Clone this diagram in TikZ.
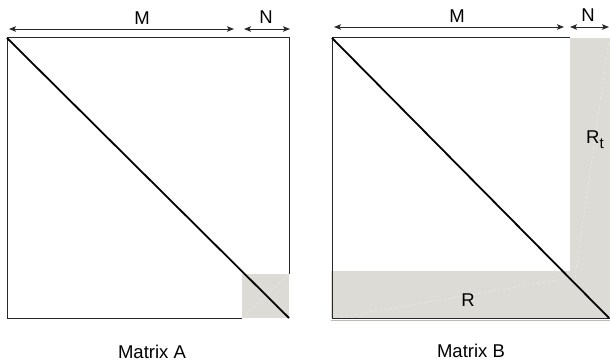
\documentclass[tikz,border=0pt]{standalone}
\usepackage{fontspec}
\setmainfont{Liberation Sans}
\usetikzlibrary{arrows.meta}
\definecolor{cellgray}{RGB}{221,219,213}
\definecolor{edge}{RGB}{40,40,40}
\begin{document}
\begin{tikzpicture}[x=1pt,y=-1pt,
  lbl/.style={font=\fontsize{18.5}{20}\selectfont, inner sep=0pt},
  dimarrow/.style={draw=edge, line width=0.9pt, {Stealth[length=7pt,width=5.5pt,inset=1.5pt]}-{Stealth[length=7pt,width=5.5pt,inset=1.5pt]}},
  boxline/.style={draw=edge, line width=1pt},
  diag/.style={draw=black, line width=1.8pt},
  faint/.style={draw=white, opacity=0.35, line width=0.6pt, dash pattern=on 3pt off 2pt}]
\useasboundingbox (0,0) rectangle (610,363);
% ---------- Matrix A ----------
\fill[cellgray] (242,274) rectangle (289,318);
\draw[faint] (242,318) -- (289,274);
\draw[boxline] (242,318) -- (7,318) -- (7,38) -- (289,38) -- (289,274);
\coordinate (a1) at (7,38);
\coordinate (a2) at (289,318);
\draw[diag] (a1) -- (a2);
\coordinate (am1) at (9,29);
\coordinate (am2) at (234,29);
\coordinate (an1) at (244,29);
\coordinate (an2) at (290,29);
\draw[dimarrow] (am1) -- (am2);
\draw[dimarrow] (an1) -- (an2);
\node[lbl] (aM) at (142,18) {M};
\node[lbl] (aN) at (266,17) {N};
\node[lbl] (capA) at (152,352) {Matrix A};
% ---------- Matrix B ----------
\fill[cellgray] (570,38) rectangle (610,318);
\fill[cellgray] (331,271) rectangle (570,318);
\draw[cellgray!85!black, line width=0.8pt] (331,320) -- (610,320);
\draw[faint] (340,317) -- (570,278);
\draw[faint] (575,278) -- (609,40);
\draw[boxline] (570,38) -- (332,38) -- (332,318) -- (610,318);
\coordinate (b1) at (332,38);
\coordinate (b2) at (609,318);
\draw[diag] (b1) -- (b2);
\coordinate (bm1) at (334,27);
\coordinate (bm2) at (564,27);
\coordinate (bn1) at (570,27);
\coordinate (bn2) at (609,27);
\draw[dimarrow] (bm1) -- (bm2);
\draw[dimarrow] (bn1) -- (bn2);
\node[lbl] (bM) at (457,16) {M};
\node[lbl] (bN) at (588,15) {N};
\node[lbl] (bR) at (468,300) {R};
\node[lbl] (bRt) at (595,140) {R\raisebox{-0.55ex}{\fontsize{15}{15}\selectfont t}};
\node[lbl] (capB) at (471,351) {Matrix B};
\end{tikzpicture}
\end{document}
